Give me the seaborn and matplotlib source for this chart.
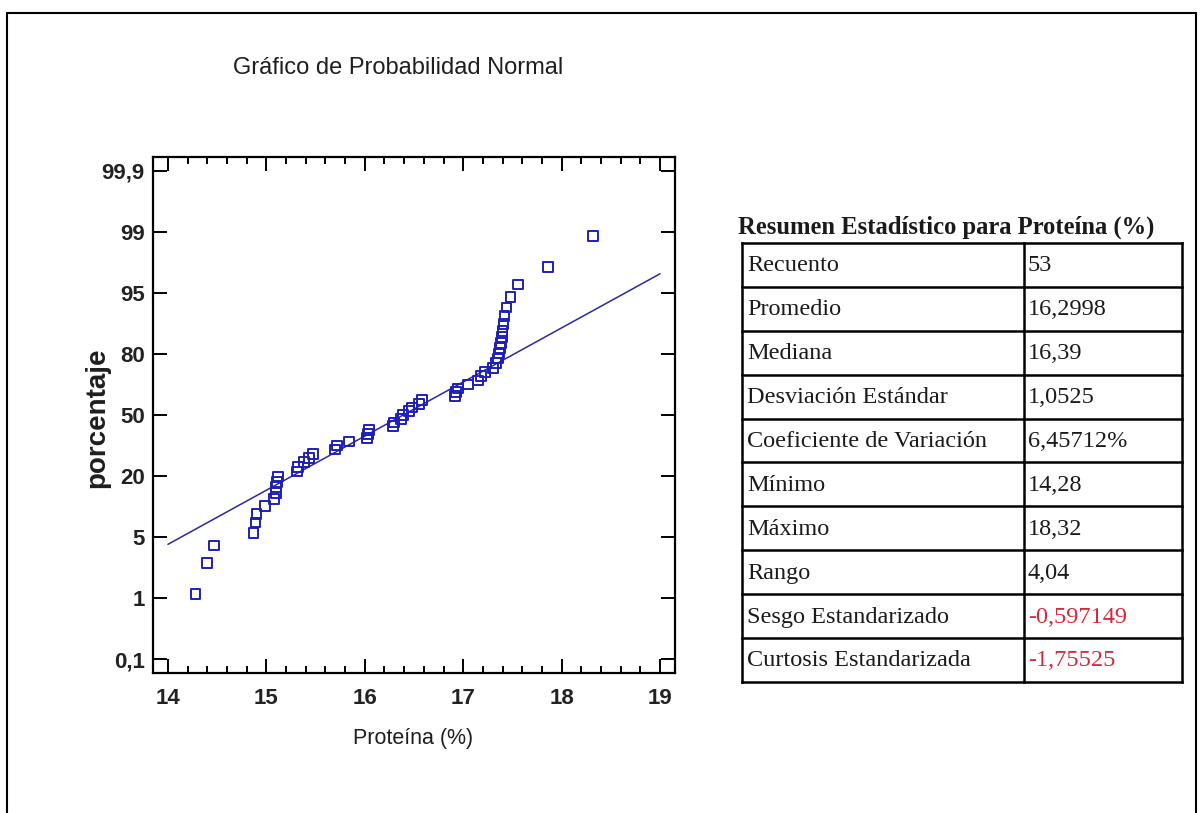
import matplotlib
matplotlib.use("Agg")
import matplotlib.pyplot as plt
import numpy as np
import pandas as pd
import seaborn as sns
from statistics import NormalDist
from matplotlib.lines import Line2D
from matplotlib.ticker import FixedLocator, MultipleLocator

# Protein content (%) of the 53 samples
protein = [
    14.28, 14.40, 14.47, 14.87, 14.89, 14.90, 14.99, 15.08, 15.10, 15.10,
    15.11, 15.12, 15.31, 15.32, 15.38, 15.43, 15.47, 15.70, 15.72, 15.84,
    16.02, 16.03, 16.04, 16.29, 16.30, 16.37, 16.39, 16.45, 16.48, 16.55,
    16.58, 16.92, 16.93, 16.95, 17.05, 17.15, 17.18, 17.22, 17.30, 17.33,
    17.35, 17.36, 17.37, 17.38, 17.39, 17.40, 17.41, 17.42, 17.44, 17.48,
    17.56, 17.86, 18.32,
]

# Percentage labels of the probability axis
pct_labels = ["0,1", "1", "5", "20", "50", "80", "95", "99", "99,9"]
x_ticks = [14, 15, 16, 17, 18, 19]

# Reference line of the probability plot
line_range = [14, 19]
ref_loc = 16.39
ref_scale = 1.46

# Summary statistics table
stat_names = [
    "Recuento", "Promedio", "Mediana", "Desviación Estándar",
    "Coeficiente de Variación", "Mínimo", "Máximo", "Rango",
    "Sesgo Estandarizado", "Curtosis Estandarizada",
]
stat_values = [
    "53", "16,2998", "16,39", "1,0525", "6,45712%", "14,28", "18,32",
    "4,04", "-0,597149", "-1,75525",
]
stat_flagged = [False] * 8 + [True, True]

sns.set_style("white")
sans = ["Liberation Sans Narrow", "Liberation Sans", "DejaVu Sans"]
serif = ["Liberation Serif", "DejaVu Serif"]
plt.rcParams["font.family"] = sans

nd = NormalDist()
n = len(protein)
scores = [nd.inv_cdf((i + 1 - 0.375) / (n + 0.25)) for i in range(n)]
df = pd.DataFrame({"protein": sorted(protein), "score": scores})
line_df = pd.DataFrame({
    "protein": line_range,
    "score": [(v - ref_loc) / ref_scale for v in line_range],
})

fig = plt.figure(figsize=(12, 8.13), dpi=100)
ax = fig.add_axes([0.1275, 0.1722, 0.435, 0.6347])

blue = "#1f1fb4"
sns.lineplot(data=line_df, x="protein", y="score", ax=ax,
             color="#2a2a9c", linewidth=1.1)
sns.scatterplot(data=df, x="protein", y="score", ax=ax, marker="s", s=50,
                facecolor="none", edgecolor=blue, linewidth=1.4, zorder=3)

z_lo, z_hi = nd.inv_cdf(0.001), nd.inv_cdf(0.999)
y_pos = np.linspace(z_lo, z_hi, len(pct_labels))
ax.set_xlim(13.848, 19.152)
ax.set_ylim(-3.266, 3.266)
ax.xaxis.set_major_locator(FixedLocator(x_ticks))
ax.xaxis.set_minor_locator(MultipleLocator(0.2))
ax.yaxis.set_major_locator(FixedLocator(y_pos))
ax.set_yticklabels(pct_labels)
ax.set_xticklabels([str(t) for t in x_ticks])
ax.set_xlabel("")
ax.set_ylabel("")

for sp in ax.spines.values():
    sp.set_visible(True)
    sp.set_color("black")
    sp.set_linewidth(1.6)

ax.tick_params(which="both", direction="in", top=True, right=True,
               bottom=True, left=True,
               labeltop=False, labelright=False, color="black", width=1.4)
ax.tick_params(which="major", length=10)
ax.tick_params(which="minor", length=5)
ax.tick_params(axis="x", which="major", pad=11, labelsize=16)
ax.tick_params(axis="y", which="major", pad=6, labelsize=16)
ax.tick_params(axis="y", which="minor", left=False, right=False)
for lab in ax.get_xticklabels() + ax.get_yticklabels():
    lab.set_fontweight("bold")
    lab.set_color("#222222")

fig.text(398 / 1200, 1 - 68 / 813, "Gráfico de Probabilidad Normal",
         ha="center", va="center", fontsize=17, color="#1e1e1e")
fig.text(413 / 1200, 1 - 738 / 813, "Proteína (%)",
         ha="center", va="center", fontsize=15.5, color="#1e1e1e")
fig.text(97 / 1200, 1 - 418 / 813, "porcentaje", rotation=90,
         ha="center", va="center", fontsize=20, fontweight="bold",
         family=["Liberation Sans", "DejaVu Sans"], color="#1e1e1e")

# Summary table drawn on its own axes, one row per statistic
tx0, tx1, ty0, ty1 = 742, 1182, 243, 682
tab = fig.add_axes([tx0 / 1200, 1 - ty1 / 813, (tx1 - tx0) / 1200,
                    (ty1 - ty0) / 813])
tab.set_xlim(0, tx1 - tx0)
tab.set_ylim(len(stat_names), 0)
tab.axis("off")
col_split = 1024 - tx0
lw = 1.8
for r in range(len(stat_names) + 1):
    tab.plot([0, tx1 - tx0], [r, r], color="black", lw=lw,
             solid_capstyle="projecting", clip_on=False)
for xv in [0, col_split, tx1 - tx0]:
    tab.plot([xv, xv], [0, len(stat_names)], color="black", lw=lw,
             solid_capstyle="projecting", clip_on=False)
for r, (name, val, flag) in enumerate(zip(stat_names, stat_values,
                                         stat_flagged)):
    tab.text(5, r + 0.52, name, ha="left", va="center", fontsize=17.5,
             family=serif, color="#1a1a1a")
    tab.text(col_split + 4, r + 0.52, val, ha="left", va="center",
             fontsize=17.5, family=serif,
             color="#d42a3a" if flag else "#1a1a1a")

fig.text(738 / 1200, 1 - 227 / 813,
         "Resumen Estadístico para Proteína (%)", ha="left", va="center",
         fontsize=17.7, fontweight="bold", family=serif, color="#1a1a1a")

# Frame around the figure
px = fig.transFigure.inverted()
def fig_line(x0, y0, x1, y1):
    (a, b), (c, d) = px.transform([(x0, 813 - y0), (x1, 813 - y1)])
    fig.add_artist(Line2D([a, c], [b, d], color="black", lw=1.5,
                          transform=fig.transFigure))

fig_line(7, 13, 7, 813)
fig_line(7, 13, 1196, 13)
fig_line(1196, 13, 1196, 813)

fig.savefig("out.png", dpi=100, facecolor="white")
